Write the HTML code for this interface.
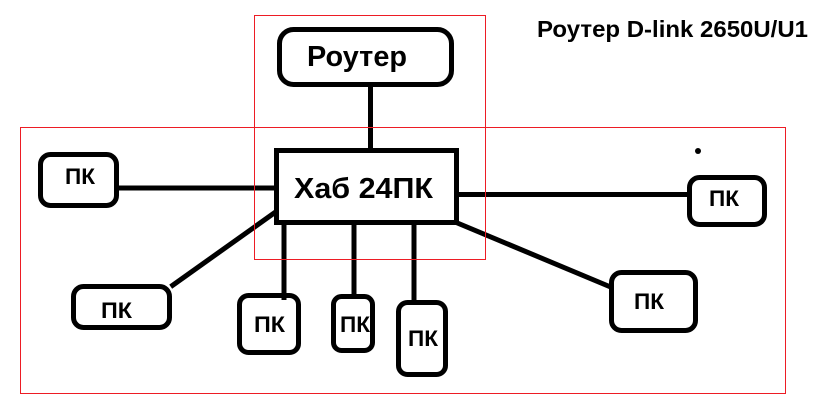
<!DOCTYPE html>
<html><head><meta charset="utf-8"><style>
html,body{margin:0;padding:0;background:#fff;}
svg{display:block;}
text{font-family:"Liberation Sans","DejaVu Sans",sans-serif;font-weight:bold;fill:#000;}
</style></head><body>
<svg width="829" height="404" viewBox="0 0 829 404" xmlns="http://www.w3.org/2000/svg">
<rect x="0" y="0" width="829" height="404" fill="#fff"/>
<g stroke="#000" stroke-width="5" fill="none" stroke-linecap="butt">
  <!-- connectors -->
  <line x1="370.5" y1="86" x2="370.5" y2="149"/>
  <line x1="118" y1="188" x2="275" y2="188"/>
  <line x1="170.7" y1="286.7" x2="276" y2="211.7"/>
  <line x1="284" y1="224" x2="284" y2="300"/>
  <line x1="354" y1="224" x2="354" y2="298"/>
  <line x1="414" y1="224" x2="414" y2="305"/>
  <line x1="458" y1="194.5" x2="690" y2="194.5"/>
  <line x1="455" y1="222" x2="613" y2="288"/>
  <!-- router -->
  <rect x="279.5" y="29.5" width="172" height="55" rx="14"/>
  <!-- hub -->
  <rect x="276.5" y="150.5" width="180" height="72"/>
  <!-- PCs -->
  <rect x="40.5" y="154.5" width="76" height="51" rx="10"/>
  <rect x="73.5" y="286.5" width="96" height="41" rx="10"/>
  <rect x="239.5" y="295.5" width="59" height="57" rx="9"/>
  <rect x="333.5" y="296.5" width="39" height="54" rx="8"/>
  <rect x="398.5" y="302.5" width="47" height="72" rx="9"/>
  <rect x="689.5" y="177.5" width="75" height="47" rx="10"/>
  <rect x="611.5" y="272.5" width="84" height="58" rx="10"/>
</g>
<circle cx="698" cy="151" r="3" fill="#000"/>
<!-- texts -->
<text x="537" y="37" font-size="23" textLength="271" lengthAdjust="spacingAndGlyphs">Роутер D-link 2650U/U1</text>
<text x="307" y="66" font-size="29" textLength="100" lengthAdjust="spacingAndGlyphs">Роутер</text>
<text x="294" y="198" font-size="29" textLength="139" lengthAdjust="spacingAndGlyphs">Хаб 24ПК</text>
<text x="65" y="184" font-size="22" textLength="30" lengthAdjust="spacingAndGlyphs">ПК</text>
<text x="101" y="318" font-size="22" textLength="31" lengthAdjust="spacingAndGlyphs">ПК</text>
<text x="254" y="332" font-size="22" textLength="31" lengthAdjust="spacingAndGlyphs">ПК</text>
<text x="340" y="332" font-size="22" textLength="30" lengthAdjust="spacingAndGlyphs">ПК</text>
<text x="408" y="346" font-size="22" textLength="30" lengthAdjust="spacingAndGlyphs">ПК</text>
<text x="709" y="206" font-size="22" textLength="30" lengthAdjust="spacingAndGlyphs">ПК</text>
<text x="634" y="309" font-size="22" textLength="30" lengthAdjust="spacingAndGlyphs">ПК</text>
<!-- red frames -->
<g stroke="#ed1c24" stroke-width="1" fill="none">
  <rect x="254.5" y="15.5" width="231" height="244"/>
  <rect x="20.5" y="127.5" width="765" height="266"/>
</g>
</svg>
</body></html>
